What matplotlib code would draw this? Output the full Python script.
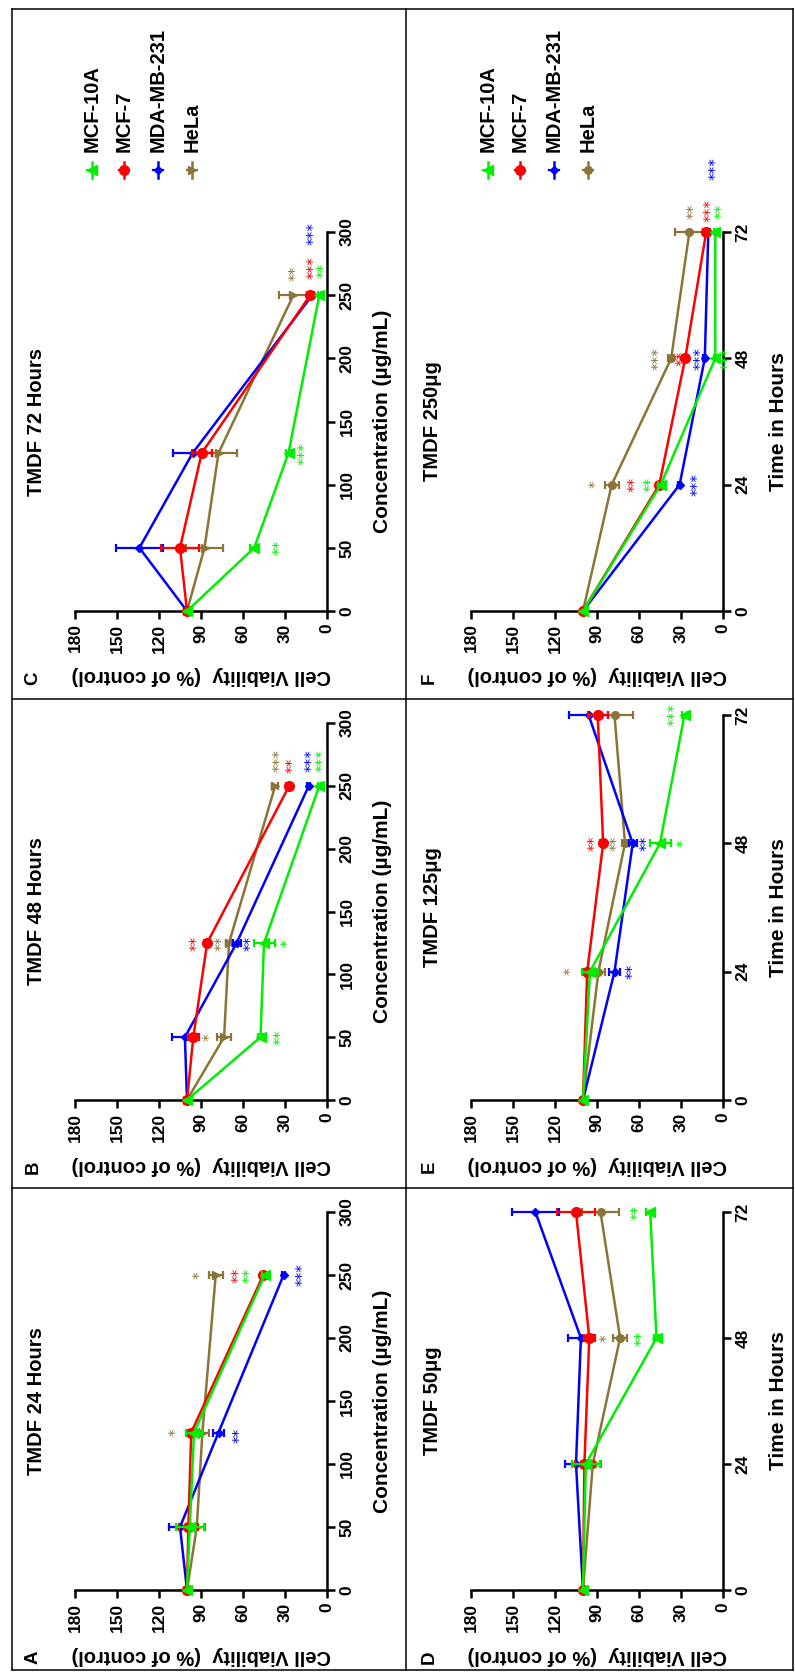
import matplotlib
matplotlib.use('Agg')
import matplotlib.pyplot as plt
from matplotlib.lines import Line2D
import matplotlib.transforms as mtransforms

plt.rcParams['font.family'] = ['Liberation Sans', 'DejaVu Sans']
plt.rcParams['font.weight'] = 'bold'

# ---------------- data ----------------
cell_lines = ['MCF-10A', 'MCF-7', 'MDA-MB-231', 'HeLa']
conc = [0, 50, 125, 250]          # µg/mL
hours = [0, 24, 48, 72]
conc_ticks = [0, 50, 100, 150, 200, 250, 300]
hour_ticks = [0, 24, 48, 72]
via_ticks = [0, 30, 60, 90, 120, 150, 180]

# viability (% of control) at conc 0, 50, 125, 250
mcf10a_24h = [100, 98, 95, 44.5]
mcf7_24h = [100, 99, 97, 45.5]
mda_24h = [100, 105, 77.5, 31]
hela_24h = [100, 93, 89, 79.5]

mcf10a_48h = [100, 47.5, 45, 5.5]
mcf7_48h = [100, 95.5, 85.6, 27]
mda_48h = [100, 101.5, 64.5, 13]
hela_48h = [100, 73.5, 70, 37]

mcf10a_72h = [100, 52, 27.5, 5.5]
mcf7_72h = [100, 105, 89.5, 12]
mda_72h = [100, 134, 96, 10.5]
hela_72h = [100, 87.5, 77.5, 24]

# SEM at conc 50, 125, 250
mcf10a_24h_err = [10, 6, 2]
mcf7_24h_err = [7, 3, 2]
mda_24h_err = [8, 4, 1]
hela_24h_err = [6, 5, 5]

mcf10a_48h_err = [2, 7.5, 1]
mcf7_48h_err = [4, 2, 2]
mda_48h_err = [9, 3, 1]
hela_48h_err = [5, 2, 2]

mcf10a_72h_err = [3, 2, 1]
mcf7_72h_err = [13.5, 7, 2]
mda_72h_err = [17, 14, 1]
hela_72h_err = [13, 13, 10]

# significance annotations: (position, viability, text, cell line)
stars_A = [(250, 93, '*', 'HeLa'), (250, 65, '**', 'MCF-7'), (250, 57.5, '**', 'MCF-10A'),
           (250, 19.5, '***', 'MDA-MB-231'), (125, 110, '*', 'HeLa'), (123, 64.7, '**', 'MDA-MB-231')]
stars_B = [(50, 86, '*', 'HeLa'), (50, 35.4, '**', 'MCF-10A'), (125, 95.6, '**', 'MCF-7'),
           (125, 77.7, '**', 'HeLa'), (125, 57, '**', 'MDA-MB-231'), (125, 30, '*', 'MCF-10A'),
           (270, 36, '***', 'HeLa'), (266, 27, '**', 'MCF-7'), (270, 13, '***', 'MDA-MB-231'),
           (270, 5, '***', 'MCF-10A')]
stars_C = [(50, 36, '**', 'MCF-10A'), (125, 18.3, '***', 'MCF-10A'), (267, 24.5, '**', 'HeLa'),
           (272, 12, '***', 'MCF-7'), (270, 4.5, '**', 'MCF-10A'), (299, 12, '***', 'MDA-MB-231')]
stars_D = [(48, 85, '*', 'HeLa'), (48, 60, '**', 'MCF-10A'), (72, 63.5, '**', 'MCF-10A')]
stars_E = [(24, 111, '*', 'HeLa'), (24, 67, '**', 'MDA-MB-231'), (48, 94, '**', 'MCF-7'),
           (48, 78, '**', 'HeLa'), (48, 57, '**', 'MDA-MB-231'), (48, 30, '*', 'MCF-10A'),
           (72, 37, '***', 'MCF-10A')]
stars_F = [(24, 93, '*', 'HeLa'), (24, 65, '**', 'MCF-7'), (24, 54, '**', 'MCF-10A'),
           (24, 20.5, '***', 'MDA-MB-231'), (48, 48.5, '***', 'HeLa'), (48, 31, '**', 'MCF-7'),
           (48, 18.3, '***', 'MDA-MB-231'), (48, -1, '***', 'MCF-10A'), (76, 23, '**', 'HeLa'),
           (76, 11, '***', 'MCF-7'), (76, 3.5, '**', 'MCF-10A'), (84, 7.5, '***', 'MDA-MB-231')]

# ---------------- styles ----------------
colors = {'MCF-10A': '#00ee00', 'MCF-7': '#ff0000', 'MDA-MB-231': '#0000ff', 'HeLa': '#8b7536'}
markers = {'MCF-10A': '<', 'MCF-7': 'o', 'MDA-MB-231': 'D', 'HeLa': 'o'}
msizes = {'MCF-10A': 7.5, 'MCF-7': 7, 'MDA-MB-231': 4.5, 'HeLa': 5.5}
draw_order = ['HeLa', 'MDA-MB-231', 'MCF-7', 'MCF-10A']

by_time = {
    '24h': {'MCF-10A': (mcf10a_24h, mcf10a_24h_err), 'MCF-7': (mcf7_24h, mcf7_24h_err),
            'MDA-MB-231': (mda_24h, mda_24h_err), 'HeLa': (hela_24h, hela_24h_err)},
    '48h': {'MCF-10A': (mcf10a_48h, mcf10a_48h_err), 'MCF-7': (mcf7_48h, mcf7_48h_err),
            'MDA-MB-231': (mda_48h, mda_48h_err), 'HeLa': (hela_48h, hela_48h_err)},
    '72h': {'MCF-10A': (mcf10a_72h, mcf10a_72h_err), 'MCF-7': (mcf7_72h, mcf7_72h_err),
            'MDA-MB-231': (mda_72h, mda_72h_err), 'HeLa': (hela_72h, hela_72h_err)},
}


def series_conc(tkey, line):
    v, e = by_time[tkey][line]
    return conc, v, e


def series_time(dose_idx, line):
    v = [100] + [by_time[t][line][0][dose_idx] for t in ('24h', '48h', '72h')]
    e = [by_time[t][line][1][dose_idx - 1] for t in ('24h', '48h', '72h')]
    return hours, v, e


W, H = 795, 1672
fig = plt.figure(figsize=(W / 100, H / 100), dpi=100)


def fx(x):
    return x / W


def fy(y):
    return 1 - y / H


cols = [(75, 327), (471, 723)]
rows = [(232, 611), (723, 1100), (1212, 1590)]

panels = [
    # letter, title, col, row, kind, key, stars
    ('A', 'TMDF 24 Hours', 0, 2, 'conc', '24h', stars_A),
    ('B', 'TMDF 48 Hours', 0, 1, 'conc', '48h', stars_B),
    ('C', 'TMDF 72 Hours', 0, 0, 'conc', '72h', stars_C),
    ('D', 'TMDF 50\u03bcg', 1, 2, 'time', 1, stars_D),
    ('E', 'TMDF 125\u03bcg', 1, 1, 'time', 2, stars_E),
    ('F', 'TMDF 250\u03bcg', 1, 0, 'time', 3, stars_F),
]

for letter, title, c, r, kind, key, stars in panels:
    x0, x1 = cols[c]
    y0, y1 = rows[r]
    if letter == 'E':
        y0 = 715
    ax = fig.add_axes([fx(x0), fy(y1), (x1 - x0) / W, (y1 - y0) / H])
    ax.set_xlim(180, 0)
    if kind == 'conc':
        ax.set_ylim(0, 300)
        ax.set_yticks(conc_ticks)
        ylab = 'Concentration (\u00b5g/mL)'
    else:
        ax.set_ylim(0, 72)
        ax.set_yticks(hour_ticks)
        ylab = 'Time in Hours'
    ax.set_xticks(via_ticks)
    for s in ('top', 'left'):
        ax.spines[s].set_visible(False)
    for s in ('bottom', 'right'):
        ax.spines[s].set_linewidth(1.8)
    ax.yaxis.tick_right()
    ax.tick_params(axis='both', direction='out', length=6, width=1.8, labelsize=12.5, pad=3)
    for lab in ax.get_xticklabels():
        lab.set_rotation(90)
        lab.set_fontweight('bold')
    for lab in ax.get_yticklabels():
        lab.set_rotation(90)
        lab.set_va('center')
        lab.set_fontweight('bold')

    for line in draw_order:
        if kind == 'conc':
            pos, v, e = series_conc(key, line)
        else:
            pos, v, e = series_time(key, line)
        col = colors[line]
        mk = markers[line]
        if line == 'HeLa' and kind == 'conc':
            mk = '>'
        ax.plot(v, pos, color=col, lw=1.8, marker=mk, ms=msizes[line], clip_on=False, zorder=3)
        ax.errorbar(v[1:], pos[1:], xerr=e, fmt='none', ecolor=col, elinewidth=1.6,
                    capsize=3.2, capthick=1.6, clip_on=False, zorder=3)

    off = mtransforms.offset_copy(ax.transData, fig=fig, x=2.5, y=0, units='points')
    for p, v, txt, line in stars:
        ax.text(v, p, txt, color=colors[line], fontsize=11, rotation=90,
                family=['DejaVu Sans'], fontweight='normal',
                ha='center', va='center', transform=off, clip_on=False)

    # title, letter, axis labels
    xc = (x0 + x1) / 2
    yc = (y0 + y1) / 2
    fig.text(fx(x0 - 38), fy(yc), title, rotation=90, ha='center', va='center',
             fontsize=14.5, fontweight='bold')
    fig.text(fx(x0 - 42), fy(y1 + 67), letter, rotation=90, ha='center', va='center',
             fontsize=13.5, fontweight='bold')
    fig.text(fx(xc), fy(y1 + 65), 'Cell Viability  (% of control)', rotation=180,
             ha='center', va='center', fontsize=14.5, fontweight='bold')
    fig.text(fx(x1 + 56), fy(yc), ylab, rotation=90, ha='center', va='center',
             fontsize=15, fontweight='bold')

    # legend in top panels
    if r == 0:
        lx = [x0 + 17, x0 + 49, x0 + 83, x0 + 117]
        for xx, line in zip(lx, cell_lines):
            col = colors[line]
            mk = markers[line]
            if line == 'HeLa' and kind == 'conc':
                mk = '>'
            fig.add_artist(Line2D([fx(xx), fx(xx)], [fy(162), fy(178)], color=col, lw=1.8,
                                  transform=fig.transFigure))
            fig.add_artist(Line2D([fx(xx - 5), fx(xx + 5)], [fy(170), fy(170)], color=col, lw=1.6,
                                  transform=fig.transFigure))
            fig.add_artist(Line2D([fx(xx)], [fy(170)], color=col, marker=mk, ms=msizes[line],
                                  transform=fig.transFigure))
            fig.text(fx(xx), fy(152), line, rotation=90, ha='center', va='bottom',
                     fontsize=14.5, fontweight='bold')

# panel frame lines
frame_kw = dict(color='black', lw=1.1, transform=fig.transFigure)
L, R, T, B = 12, 793, 9, 1670
for xs, ys in [((L, R), (T, T)), ((L, R), (B, B)), ((L, L), (T, B)), ((R, R), (T, B)),
               ((406, 406), (T, B)), ((L, R), (699, 699)), ((L, R), (1188, 1188))]:
    fig.add_artist(Line2D([fx(xs[0]), fx(xs[1])], [fy(ys[0]), fy(ys[1])], **frame_kw))

fig.savefig('out.png', dpi=100)
